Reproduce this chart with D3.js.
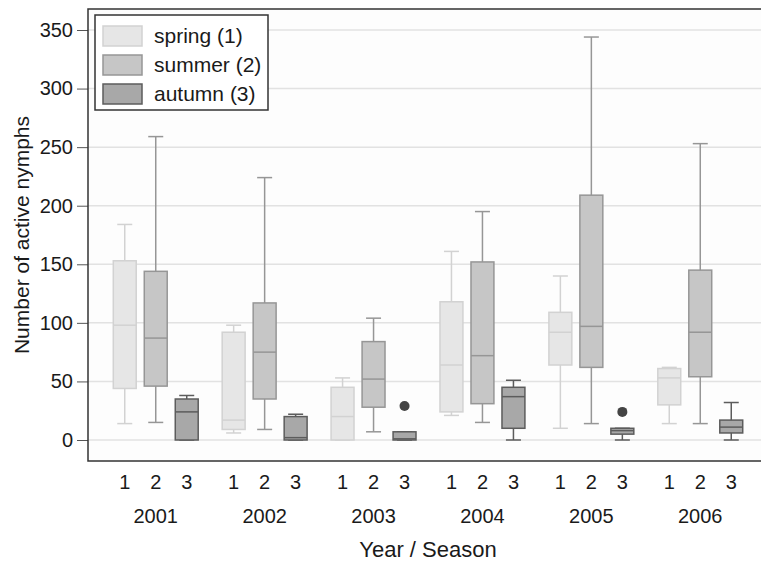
<!DOCTYPE html>
<html>
<head>
<meta charset="utf-8">
<script src="https://cdn.jsdelivr.net/npm/d3@7"></script>
<style>
  body { margin: 0; background: #fff; }
  #chart { width: 761px; height: 562px; }
  text { font-family: "Liberation Sans", Arial, sans-serif; fill: #1a1a1a; }
</style>
</head>
<body>
<div id="chart"></div>
<script>
const years = ["2001", "2002", "2003", "2004", "2005", "2006"];
const seasons = ["1", "2", "3"];
const seasonNames = ["spring (1)", "summer (2)", "autumn (3)"];
const yTicks = [0, 50, 100, 150, 200, 250, 300, 350];

// [min, q1, median, q3, max] per year
const spring = [
  [14, 44, 98, 153, 184],
  [6, 9, 17, 92, 98],
  [0, 0, 20, 45, 53],
  [21, 24, 64, 118, 161],
  [10, 64, 92, 109, 140],
  [14, 30, 53, 61, 62],
];
const summer = [
  [15, 46, 87, 144, 259],
  [9, 35, 75, 117, 224],
  [7, 28, 52, 84, 104],
  [15, 31, 72, 152, 195],
  [14, 62, 97, 209, 344],
  [14, 54, 92, 145, 253],
];
const autumn = [
  [0, 0, 24, 35, 38],
  [0, 0, 2, 20, 22],
  [0, 0, 1, 7, 7],
  [0, 10, 37, 45, 51],
  [0, 5, 8, 10, 10],
  [0, 6, 11, 17, 32],
];
// outliers: [year, season, value]
const outliers = [
  ["2003", "3", 29],
  ["2005", "3", 24],
];

const fills = ["#e6e6e6", "#c6c6c6", "#a8a8a8"];
const strokes = ["#d2d2d2", "#969696", "#5c5c5c"];

function createBoxChart(containerId) {
  const width = 761;
  const height = 562;
  const plot = { left: 88, right: 768, top: 9, bottom: 461 };

  const svg = d3
    .select(`#${containerId}`)
    .html("")
    .append("svg")
    .attr("width", width)
    .attr("height", height);

  const x0 = d3
    .scaleBand()
    .domain(years)
    .range([plot.left, plot.right])
    .paddingInner(0)
    .paddingOuter(0.122);

  const x1 = d3
    .scaleBand()
    .domain(seasons)
    .range([0, x0.bandwidth()])
    .paddingInner(0.26)
    .paddingOuter(0.387);

  const y = d3.scaleLinear().domain([0, 350]).range([440, 30]);

  // plot background
  svg
    .append("rect")
    .attr("x", plot.left)
    .attr("y", plot.top)
    .attr("width", plot.right - plot.left)
    .attr("height", plot.bottom - plot.top)
    .attr("fill", "#fdfdfd");

  // gridlines
  svg
    .append("g")
    .selectAll("line")
    .data(yTicks)
    .enter()
    .append("line")
    .attr("x1", plot.left)
    .attr("x2", plot.right)
    .attr("y1", (d) => y(d))
    .attr("y2", (d) => y(d))
    .attr("stroke", "#e2e2e2")
    .attr("stroke-width", 1.5);

  // y axis
  const yAxis = svg
    .append("g")
    .attr("transform", `translate(${plot.left},0)`)
    .call(d3.axisLeft(y).tickValues(yTicks).tickSize(11).tickPadding(4));
  yAxis.select(".domain").remove();
  yAxis.selectAll(".tick line").attr("stroke", "#555");
  yAxis
    .selectAll(".tick text")
    .style("font-size", "20px")
    .attr("fill", "#1a1a1a")
    .attr("font-family", null);

  const seriesList = [spring, summer, autumn];
  const capW = 15;

  seriesList.forEach((series, si) => {
    const g = svg.append("g");
    const rows = series.map((v, i) => ({ year: years[i], v }));
    const cx = (d) => x0(d.year) + x1(seasons[si]) + x1.bandwidth() / 2;

    // whiskers
    g.selectAll(".whisker")
      .data(rows)
      .enter()
      .append("line")
      .attr("x1", cx)
      .attr("x2", cx)
      .attr("y1", (d) => y(d.v[0]))
      .attr("y2", (d) => y(d.v[4]))
      .attr("stroke", strokes[si])
      .attr("stroke-width", 1.5);

    ["0", "4"].forEach((k) => {
      g.selectAll(".cap" + k)
        .data(rows)
        .enter()
        .append("line")
        .attr("x1", (d) => cx(d) - capW / 2)
        .attr("x2", (d) => cx(d) + capW / 2)
        .attr("y1", (d) => y(d.v[k]))
        .attr("y2", (d) => y(d.v[k]))
        .attr("stroke", strokes[si])
        .attr("stroke-width", 1.5);
    });

    // boxes
    g.selectAll(".box")
      .data(rows)
      .enter()
      .append("rect")
      .attr("x", (d) => x0(d.year) + x1(seasons[si]))
      .attr("y", (d) => y(d.v[3]))
      .attr("width", x1.bandwidth())
      .attr("height", (d) => y(d.v[1]) - y(d.v[3]))
      .attr("fill", fills[si])
      .attr("stroke", strokes[si])
      .attr("stroke-width", 1.5);

    // medians
    g.selectAll(".median")
      .data(rows)
      .enter()
      .append("line")
      .attr("x1", (d) => x0(d.year) + x1(seasons[si]))
      .attr("x2", (d) => x0(d.year) + x1(seasons[si]) + x1.bandwidth())
      .attr("y1", (d) => y(d.v[2]))
      .attr("y2", (d) => y(d.v[2]))
      .attr("stroke", strokes[si])
      .attr("stroke-width", 1.5);
  });

  // outliers
  svg
    .append("g")
    .selectAll("circle")
    .data(outliers)
    .enter()
    .append("circle")
    .attr("cx", (d) => x0(d[0]) + x1(d[1]) + x1.bandwidth() / 2)
    .attr("cy", (d) => y(d[2]))
    .attr("r", 5)
    .attr("fill", "#444");

  // frame
  svg
    .append("path")
    .attr(
      "d",
      `M${plot.right},${plot.top}H${plot.left}V${plot.bottom}H${plot.right}`
    )
    .attr("fill", "none")
    .attr("stroke", "#333")
    .attr("stroke-width", 1.5);

  // season labels
  const labels = [];
  years.forEach((yr) => seasons.forEach((s) => labels.push({ yr, s })));
  svg
    .append("g")
    .selectAll("text")
    .data(labels)
    .enter()
    .append("text")
    .attr("x", (d) => x0(d.yr) + x1(d.s) + x1.bandwidth() / 2)
    .attr("y", 489)
    .attr("text-anchor", "middle")
    .style("font-size", "20px")
    .text((d) => d.s);

  // year labels
  svg
    .append("g")
    .selectAll("text")
    .data(years)
    .enter()
    .append("text")
    .attr("x", (d) => x0(d) + x0.bandwidth() / 2)
    .attr("y", 523)
    .attr("text-anchor", "middle")
    .style("font-size", "20px")
    .text((d) => d);

  // axis titles
  svg
    .append("text")
    .attr("x", (plot.left + plot.right) / 2)
    .attr("y", 557)
    .attr("text-anchor", "middle")
    .style("font-size", "22px")
    .text("Year / Season");

  svg
    .append("text")
    .attr("transform", `translate(29,${(plot.top + plot.bottom) / 2}) rotate(-90)`)
    .attr("text-anchor", "middle")
    .style("font-size", "21px")
    .text("Number of active nymphs");

  // legend
  const legend = svg.append("g");
  legend
    .append("rect")
    .attr("x", 95)
    .attr("y", 15)
    .attr("width", 173)
    .attr("height", 95)
    .attr("fill", "#fff")
    .attr("stroke", "#333")
    .attr("stroke-width", 1.5);

  const items = legend
    .selectAll(".item")
    .data(seasonNames)
    .enter()
    .append("g")
    .attr("transform", (d, i) => `translate(103,${26 + i * 29})`);

  items
    .append("rect")
    .attr("width", 39)
    .attr("height", 20)
    .attr("fill", (d, i) => fills[i])
    .attr("stroke", (d, i) => strokes[i])
    .attr("stroke-width", 1.5);

  items
    .append("text")
    .attr("x", 51)
    .attr("y", 17)
    .style("font-size", "21px")
    .text((d) => d);
}

createBoxChart("chart");
</script>
</body>
</html>
